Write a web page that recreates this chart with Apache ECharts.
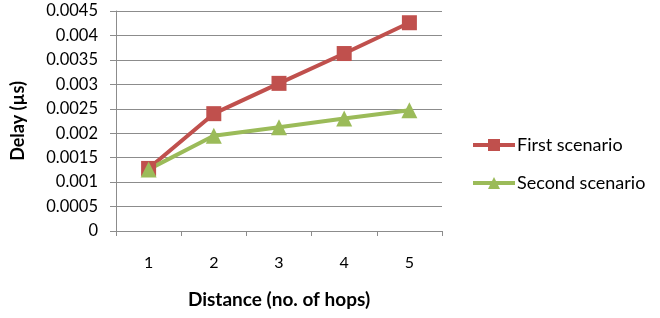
<!DOCTYPE html>
<html>
<head>
<meta charset="utf-8">
<script src="https://cdn.jsdelivr.net/npm/echarts@6/dist/echarts.min.js"></script>
<style>
  html, body { margin: 0; padding: 0; background: #fff; }
  #main { width: 660px; height: 318px; }
</style>
</head>
<body>
<div id="main"></div>
<script>
var hops = ["1", "2", "3", "4", "5"];
var firstScenario = [0.00128, 0.0024, 0.00302, 0.00363, 0.00426];
var secondScenario = [0.00126, 0.00195, 0.00212, 0.0023, 0.00247];
var yTicks = ["0", "0.0005", "0.001", "0.0015", "0.002", "0.0025", "0.003", "0.0035", "0.004", "0.0045"];

var myChart = echarts.init(document.getElementById("main"));
var gridColor = "#8c8c8c";
var font = "Lato, 'Open Sans', sans-serif";

var option = {
  animation: false,
  grid: {
    left: 116,
    right: 218,
    top: 11,
    bottom: 87
  },
  legend: {
    orient: "vertical",
    left: 471,
    top: 136,
    padding: 0,
    itemGap: 20,
    itemWidth: 42,
    itemHeight: 15,
    lineStyle: { width: 4 },
    textStyle: { fontFamily: font, fontSize: 18, color: "#000", padding: [0, 0, 0, -3] },
    data: ["First scenario", "Second scenario"]
  },
  xAxis: {
    type: "category",
    data: hops,
    boundaryGap: true,
    name: "Distance (no. of hops)",
    nameLocation: "middle",
    nameGap: 59,
    nameTextStyle: { fontFamily: font, fontSize: 19, fontWeight: "bold", color: "#000" },
    axisLine: { lineStyle: { color: gridColor, width: 1 } },
    axisTick: { show: true, length: 5, interval: 0, lineStyle: { color: gridColor } },
    axisLabel: { margin: 24, fontFamily: font, fontSize: 16, color: "#000" }
  },
  yAxis: {
    type: "value",
    min: 0,
    max: 0.0045,
    interval: 0.0005,
    name: "Delay (µs)",
    nameLocation: "middle",
    nameGap: 89,
    nameTextStyle: { fontFamily: font, fontSize: 18, fontWeight: "bold", color: "#000" },
    axisLine: { show: true, lineStyle: { color: gridColor, width: 1 } },
    axisTick: { show: true, inside: false, length: 6, lineStyle: { color: gridColor } },
    splitLine: { show: true, lineStyle: { color: gridColor, width: 1 } },
    axisLabel: {
      margin: 18,
      fontFamily: font,
      fontSize: 16.5,
      color: "#000",
      formatter: function (v) {
        var i = Math.round(v / 0.0005);
        return yTicks[i];
      }
    }
  },
  series: [
    {
      name: "First scenario",
      type: "line",
      data: firstScenario,
      symbol: "rect",
      symbolSize: 15,
      lineStyle: { color: "#C0504D", width: 4 },
      itemStyle: { color: "#C0504D" }
    },
    {
      name: "Second scenario",
      type: "line",
      data: secondScenario,
      symbol: "triangle",
      symbolSize: 16,
      lineStyle: { color: "#9BBB59", width: 4 },
      itemStyle: { color: "#9BBB59" }
    }
  ]
};

myChart.setOption(option);
</script>
</body>
</html>
